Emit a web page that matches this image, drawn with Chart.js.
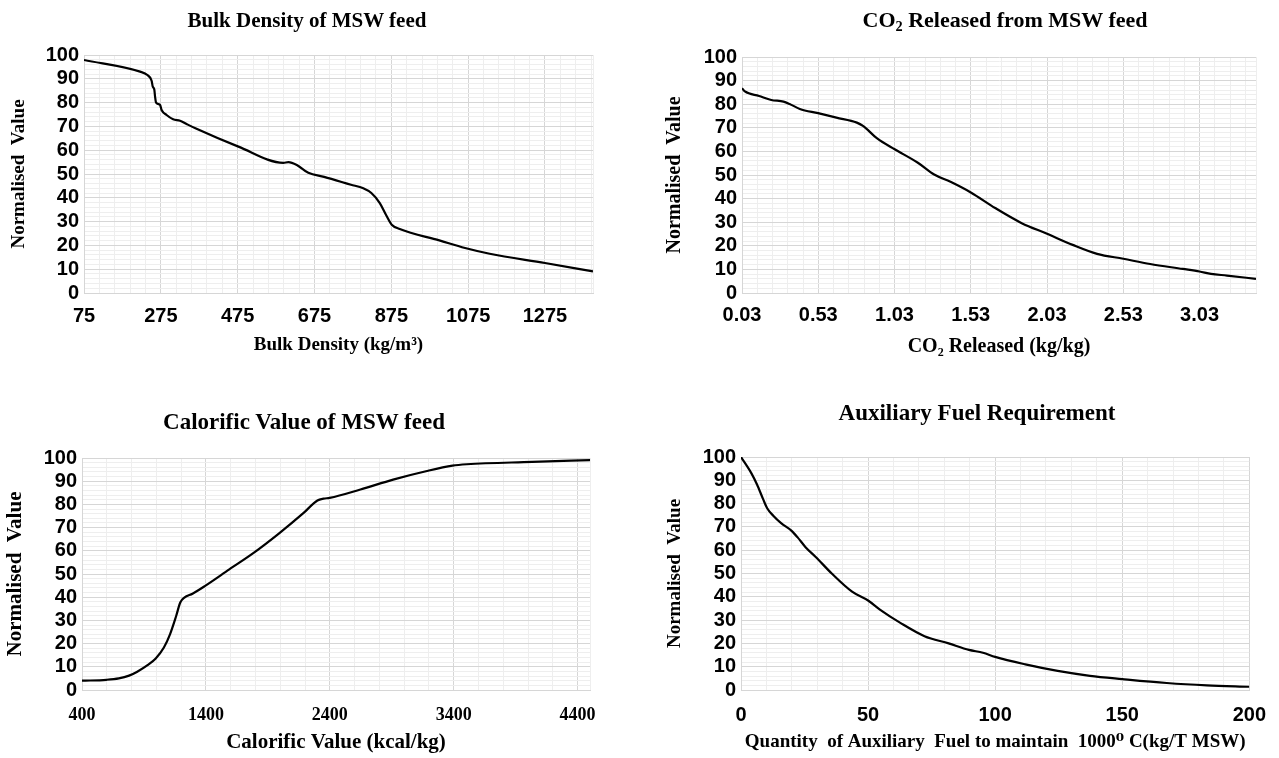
<!DOCTYPE html>
<html>
<head>
<meta charset="utf-8">
<script src="https://cdn.jsdelivr.net/npm/chart.js@4.4.1/dist/chart.umd.min.js"></script>
<style>
  html, body { margin: 0; padding: 0; background: #fff; }
  #wrap { position: relative; width: 1279px; height: 758px; overflow: hidden; }
  .cell { position: absolute; }
  .ttl { position: absolute; width: 500px; text-align: center; font-family: "Liberation Serif", "Times New Roman", serif;
         font-weight: bold; color: #000; line-height: 26px; white-space: nowrap; }
  .ttl sub { font-size: 0.65em; vertical-align: -0.25em; line-height: 0; }
</style>
</head>
<body>
<div id="wrap">
  <div class="cell" style="left:0;top:0;width:640px;height:379px"><canvas id="bulk"></canvas></div>
  <div class="cell" style="left:640px;top:0;width:639px;height:379px"><canvas id="co2"></canvas></div>
  <div class="cell" style="left:0;top:379px;width:640px;height:379px"><canvas id="cal"></canvas></div>
  <div class="cell" style="left:640px;top:379px;width:639px;height:379px"><canvas id="fuel"></canvas></div>

  <div class="ttl" style="left:57px;top:7px;font-size:21px">Bulk Density of MSW feed</div>
  <div class="ttl" style="left:755px;top:7px;font-size:22px">CO<sub>2</sub> Released from MSW feed</div>
  <div class="ttl" style="left:54px;top:409px;font-size:23px">Calorific Value of MSW feed</div>
  <div class="ttl" style="left:727px;top:400px;font-size:23px">Auxiliary Fuel Requirement</div>
</div>
<script>
// values
const bulkDensity = [75, 221, 240, 251, 254, 258, 260, 262.5, 268, 273, 277, 290, 307, 325, 342, 365, 477, 594, 607, 629, 659, 700, 770, 802, 823, 845, 861, 876, 897, 1000, 1067, 1131, 1275, 1400];
const bulkNorm    = [97.9, 93, 91.6, 89.2, 86.7, 85.5, 82.5, 80, 79.4, 79, 76.9, 74.8, 73, 72.4, 71, 69.2, 61.5, 54.7, 55, 53.8, 50.5, 48.8, 45.5, 44, 42, 37.8, 32.9, 28.7, 26.9, 22.1, 18.9, 16.5, 12.6, 9.1];

const co2Released = [0.03, 0.049, 0.142, 0.222, 0.302, 0.342, 0.409, 0.529, 0.649, 0.783, 0.823, 0.916, 1.031, 1.183, 1.29, 1.397, 1.53, 1.69, 1.864, 2.03, 2.198, 2.358, 2.53, 2.706, 2.92, 3.03, 3.105, 3.21, 3.40];
const co2Norm     = [86.8, 85.4, 83.5, 81.8, 81.1, 80.1, 78, 76.2, 74.3, 72.2, 70.8, 65.5, 60.9, 55.2, 50.2, 47.1, 42.6, 36, 29.6, 25.1, 20.4, 16.6, 14.5, 12.3, 10.2, 9.1, 8.1, 7.4, 6.0];

const calorific   = [400, 598, 697, 780, 846, 929, 995, 1061, 1111, 1160, 1193, 1226, 1292, 1391, 1589, 1788, 1986, 2184, 2300, 2350, 2399, 2647, 2911, 3176, 3390, 3505, 4034, 4500];
const calNorm     = [4.0, 4.4, 5.0, 6.2, 7.9, 10.7, 13.6, 18.3, 24.1, 31.9, 37.7, 39.8, 41.5, 44.8, 52, 59.2, 67.3, 76.1, 81.7, 82.5, 82.8, 86.4, 90.7, 94.3, 96.7, 97.3, 98.3, 99.1];

const auxFuel     = [0, 4, 6.3, 8.7, 10.3, 12.7, 15.9, 19.8, 22.2, 25.4, 29.4, 35.7, 43.7, 50, 54.8, 62.7, 72.2, 81.7, 89.7, 95.2, 100, 111.9, 124.6, 137.3, 150, 167.5, 183.3, 200];
const fuelNorm    = [100, 93.2, 88.2, 81.9, 78, 74.8, 71.5, 68.4, 65.6, 61.3, 57.1, 50, 42.2, 38.4, 34.4, 28.8, 23.1, 20, 17.2, 16, 14.2, 11, 8.2, 6.1, 4.7, 3.0, 2.0, 1.4];

// tick labels
const bulkTicks = [75, 275, 475, 675, 875, 1075, 1275];
const co2Ticks  = [0.03, 0.53, 1.03, 1.53, 2.03, 2.53, 3.03];
const calTicks  = [400, 1400, 2400, 3400, 4400];
const fuelTicks = [0, 50, 100, 150, 200];
const normTicks = [0, 10, 20, 30, 40, 50, 60, 70, 80, 90, 100];

const SANS = '"Liberation Sans", Arial, sans-serif';
const SERIF = '"Liberation Serif", "Times New Roman", "DejaVu Serif", serif';
const MAJOR = '#d6d6d6';
const MINOR = '#eeeeee';

function allTicks(min, max, step) {
  const out = [];
  for (let i = 0; min + i * step <= max + 1e-9; i++) out.push(+(min + i * step).toFixed(6));
  if (Math.abs(out[out.length - 1] - max) > 1e-6) out.push(max);
  return out;
}
const isIn = (list, v) => list.some(m => Math.abs(m - v) < 1e-6);

function makeChart(id, xs, ys, o) {
  const H = 379;
  const xAll = allTicks(o.xMin, o.xMax, o.xMinor);
  const yAll = allTicks(0, 100, 2);
  const xtLh = o.xTitleSize * 1.2;
  const ytLh = o.yTitleSize * 1.2;
  const xtSize = o.xTickSize || o.tickSize;
  new Chart(document.getElementById(id), {
    type: 'line',
    data: { datasets: [{
      data: xs.map((x, i) => ({ x: x, y: ys[i] })),
      borderColor: '#000', borderWidth: 2.2, pointRadius: 0,
      cubicInterpolationMode: 'monotone', fill: false
    }] },
    options: {
      responsive: true, maintainAspectRatio: false, animation: false,
      layout: { padding: { left: 0, top: o.top, right: o.W - o.right, bottom: 0 } },
      plugins: { legend: { display: false }, tooltip: { enabled: false }, title: { display: false } },
      scales: {
        x: {
          type: 'linear', min: o.xMin, max: o.xMax,
          afterBuildTicks: s => { s.ticks = xAll.map(v => ({ value: v })); },
          afterFit: s => { s.height = H - o.bottom; },
          grid: { color: c => (c.tick && isIn(o.xMajor, c.tick.value)) ? MAJOR : MINOR, lineWidth: 1, drawTicks: false },
          border: { color: MAJOR },
          ticks: {
            autoSkip: false, maxRotation: 0, color: '#000',
            padding: o.xLabelY - o.bottom - xtSize * 0.6,
            font: { family: o.xTickFont || SANS, size: xtSize, weight: 'bold' },
            callback: v => isIn(o.xMajor, v) ? o.fmt(v) : ''
          },
          title: {
            display: true, text: o.xTitle, color: '#000',
            font: { family: SERIF, size: o.xTitleSize, weight: 'bold' },
            padding: { top: 0, bottom: H - o.xTitleY - xtLh / 2 }
          }
        },
        y: {
          min: 0, max: 100,
          afterBuildTicks: s => { s.ticks = yAll.map(v => ({ value: v })); },
          afterFit: s => { s.width = o.left; },
          grid: { color: c => (c.tick && isIn(normTicks, c.tick.value)) ? MAJOR : MINOR, lineWidth: 1, drawTicks: false },
          border: { color: MAJOR },
          ticks: {
            autoSkip: false, color: '#000', padding: 5,
            font: { family: SANS, size: o.tickSize, weight: 'bold' },
            callback: v => isIn(normTicks, v) ? String(v) : ''
          },
          title: {
            display: true, text: 'Normalised  Value', color: '#000',
            font: { family: SERIF, size: o.yTitleSize, weight: 'bold' },
            padding: { top: o.yTitleX - ytLh / 2, bottom: 0 }
          }
        }
      }
    }
  });
}

makeChart('bulk', bulkDensity, bulkNorm, {
  W: 640, left: 84, right: 593, top: 55, bottom: 293, xLabelY: 316, xTitleY: 345, yTitleX: 19,
  xMin: 75, xMax: 1400, xMinor: 40, xMajor: bulkTicks, fmt: v => String(v),
  tickSize: 20, xTitleSize: 19, yTitleSize: 19, xTitle: 'Bulk Density (kg/m\u00B3)'
});
makeChart('co2', co2Released, co2Norm, {
  W: 639, left: 102, right: 616, top: 57, bottom: 293, xLabelY: 315, xTitleY: 347, yTitleX: 35,
  xMin: 0.03, xMax: 3.40, xMinor: 0.1, xMajor: co2Ticks, fmt: v => v.toFixed(2),
  tickSize: 20, xTitleSize: 20, yTitleSize: 20, xTitle: 'CO\u2082 Released (kg/kg)'
});
makeChart('cal', calorific, calNorm, {
  W: 640, left: 82, right: 590, top: 79, bottom: 311, xLabelY: 336, xTitleY: 364, yTitleX: 16,
  xMin: 400, xMax: 4500, xMinor: 200, xMajor: calTicks, fmt: v => String(v),
  tickSize: 20, xTickFont: SERIF, xTickSize: 18, xTitleSize: 21, yTitleSize: 21, xTitle: 'Calorific Value (kcal/kg)'
});
makeChart('fuel', auxFuel, fuelNorm, {
  W: 639, left: 101, right: 613, top: 78, bottom: 311, xLabelY: 336, xTitleY: 363, yTitleX: 35,
  xMin: 0, xMax: 200, xMinor: 10, xMajor: fuelTicks, fmt: v => String(v),
  tickSize: 20, xTitleSize: 19, yTitleSize: 19, xTitle: 'Quantity  of Auxiliary  Fuel to maintain  1000\u2070 C(kg/T MSW)'
});
</script>
</body>
</html>
